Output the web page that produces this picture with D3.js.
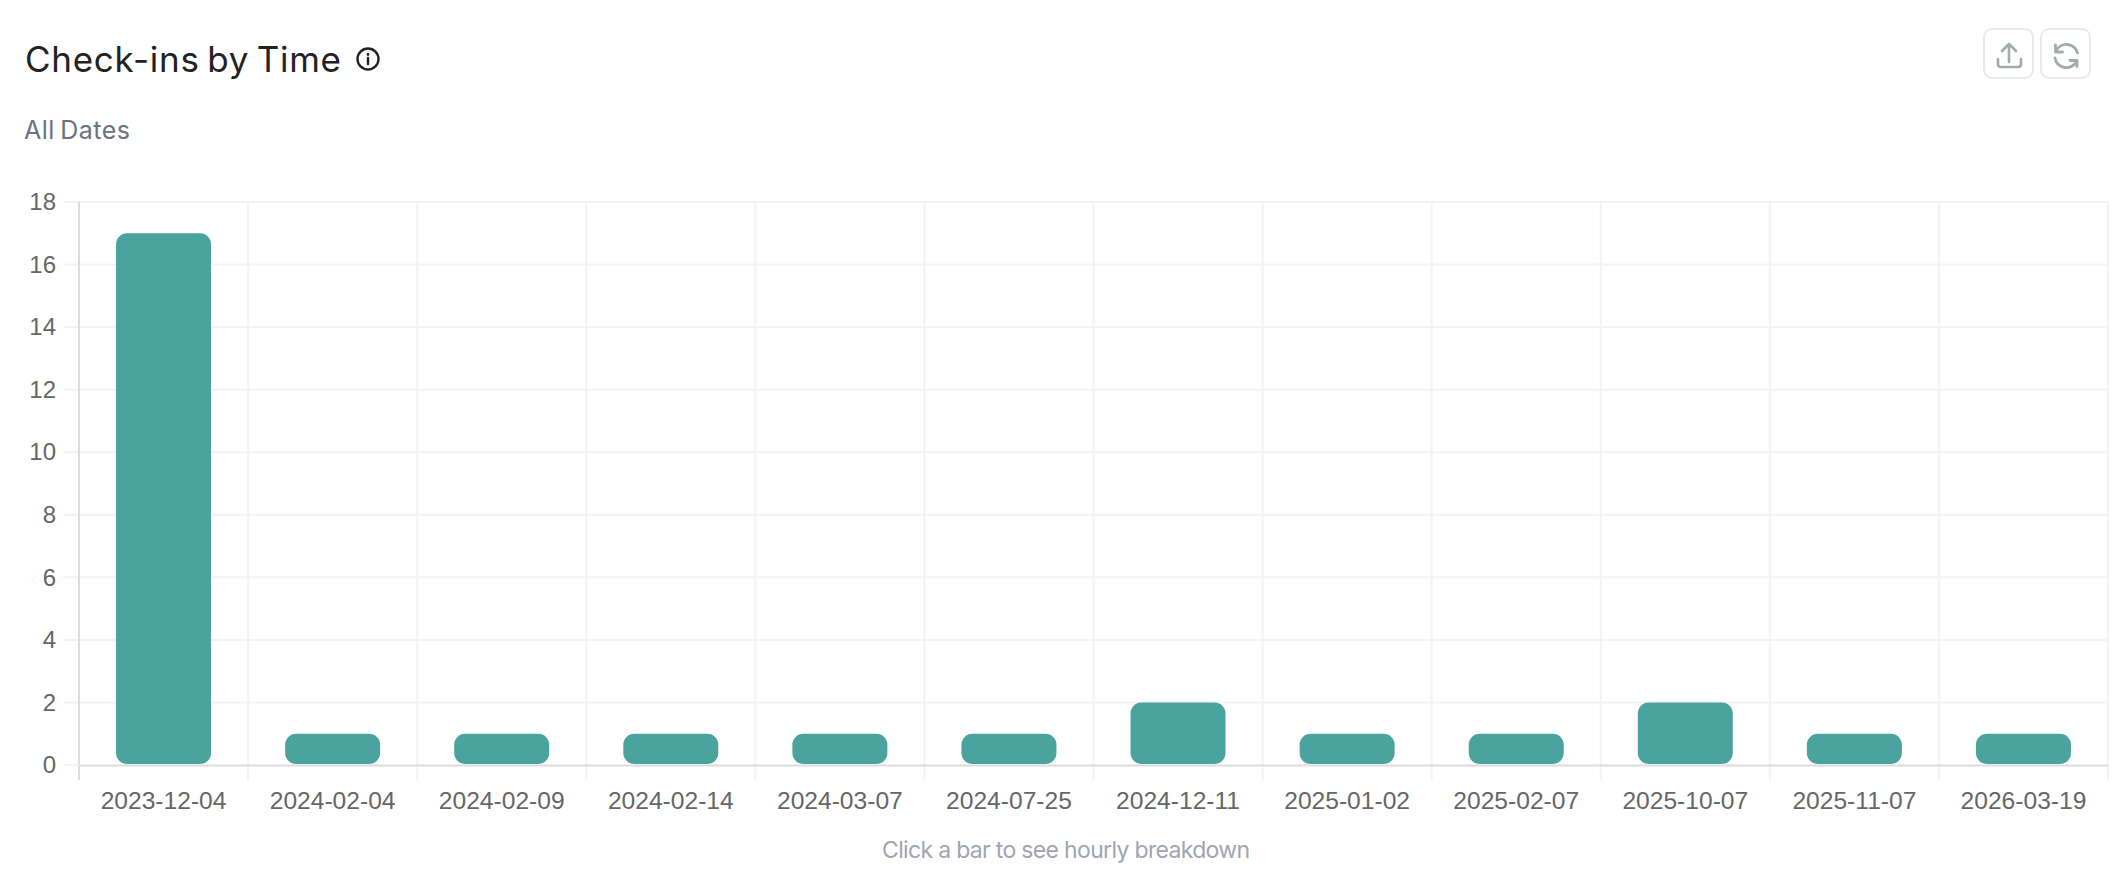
<!DOCTYPE html>
<html><head><meta charset="utf-8">
<script src="https://cdn.jsdelivr.net/npm/d3@7/dist/d3.min.js"></script>
<style>html,body{margin:0;padding:0;background:#fff;overflow:hidden}svg{display:block}</style>
</head><body><svg id="c" width="2112" height="886"></svg>
<script>
const categories = ["2023-12-04","2024-02-04","2024-02-09","2024-02-14","2024-03-07","2024-07-25","2024-12-11","2025-01-02","2025-02-07","2025-10-07","2025-11-07","2026-03-19"];
const checkins = [17,1,1,1,1,1,2,1,1,2,1,1];
const yTicks = [0,2,4,6,8,10,12,14,16,18];
const titleText = "Check-ins by Time", subtitleText = "All Dates", hintText = "Click a bar to see hourly breakdown";

const svg = d3.select("#c");
const L=79,R=2108,T=202,B=765;
const x = d3.scaleBand().domain(categories).range([L,R]);
const y = d3.scaleLinear().domain([0,18]).range([B,T]);
const grid="#f3f3f4", axisCol="#dcdcdc", labelCol="#666666", teal="#4ba3a0";
const uiFont="Inter, 'Noto Sans', sans-serif", axFont="'Liberation Sans', Arial, sans-serif";

// grid
const g=svg.append("g");
g.selectAll("line.h").data(yTicks.filter(d=>d>0)).join("line").attr("class","h")
 .attr("x1",L-16).attr("x2",R).attr("y1",d=>y(d)).attr("y2",d=>y(d)).attr("stroke",grid).attr("stroke-width",2);
const bounds=categories.map(c=>x(c)).concat([R]);
g.selectAll("line.v").data(bounds.slice(1)).join("line").attr("class","v")
 .attr("x1",d=>d).attr("x2",d=>d).attr("y1",T).attr("y2",B+15).attr("stroke",grid).attr("stroke-width",2);
g.append("line").attr("x1",L).attr("x2",L).attr("y1",T).attr("y2",B+15).attr("stroke",axisCol).attr("stroke-width",2);
g.append("line").attr("x1",L-16).attr("x2",L).attr("y1",B).attr("y2",B).attr("stroke",grid).attr("stroke-width",2);

// bars
const bw=95, rad=11;
function barPath(c,v){
  const cx=x(c)+x.bandwidth()/2,x0=cx-bw/2,x1=cx+bw/2,t=y(v),b=B-1;
  const r=Math.min(rad,(b-t)/2);
  return `M${x0+r},${t}H${x1-r}A${r},${r} 0 0 1 ${x1},${t+r}V${b-r}A${r},${r} 0 0 1 ${x1-r},${b}H${x0+r}A${r},${r} 0 0 1 ${x0},${b-r}V${t+r}A${r},${r} 0 0 1 ${x0+r},${t}Z`;
}
svg.append("g").selectAll("path").data(categories).join("path")
 .attr("d",(c,i)=>barPath(c,checkins[i])).attr("fill",teal);

// axes
const ax=svg.append("g").attr("transform",`translate(0,${B})`)
 .call(d3.axisBottom(x).tickSize(0).tickPadding(27));
ax.select(".domain").attr("stroke",axisCol).attr("stroke-width",2);
ax.selectAll("text").attr("font-family",axFont).attr("font-size",24.6).attr("fill",labelCol);
const ay=svg.append("g").attr("transform",`translate(${L-23},0)`)
 .call(d3.axisLeft(y).tickValues(yTicks).tickSize(0).tickPadding(0));
ay.select(".domain").remove();
ay.selectAll("text").attr("font-family",axFont).attr("font-size",24).attr("fill",labelCol);

// titles
svg.append("text").attr("x",25).attr("y",72).attr("font-family",uiFont).attr("font-size",35).attr("font-weight",400)
 .attr("fill","#222").attr("word-spacing",-3).attr("textLength",316).text(titleText);
svg.append("text").attr("x",24).attr("y",139).attr("font-family",uiFont).attr("font-size",25).attr("fill","#6b7280")
 .attr("word-spacing",-2).attr("textLength",106).text(subtitleText);
svg.append("text").attr("x",882).attr("y",858).attr("font-family",uiFont).attr("font-size",23).attr("fill","#9fa5b3")
 .attr("textLength",368).text(hintText);

// info icon
const info=svg.append("g").attr("transform","translate(368,59)").attr("fill","none").attr("stroke","#222").attr("stroke-width",2.4);
info.append("circle").attr("r",10.5);
info.append("line").attr("x1",0).attr("x2",0).attr("y1",-1).attr("y2",5).attr("stroke-linecap","round");
info.append("circle").attr("cy",-4.5).attr("r",1.4).attr("fill","#222").attr("stroke","none");

// buttons
[1983,2040].forEach(bx=>svg.append("rect").attr("x",bx+1).attr("y",29).attr("width",49).attr("height",49).attr("rx",8)
  .attr("fill","#fff").attr("stroke","#e9e9e9").attr("stroke-width",2));
const ic="#a3abab";
const up=svg.append("g").attr("fill","none").attr("stroke",ic).attr("stroke-width",2.6).attr("stroke-linecap","round").attr("stroke-linejoin","round");
up.append("path").attr("d","M2009,45V62M2002,51L2009,44L2016,51");
up.append("path").attr("d","M1998,59V64Q1998,67 2001,67H2018Q2021,67 2021,64V59");
const rf=svg.append("g").attr("fill","none").attr("stroke",ic).attr("stroke-width",2.8).attr("stroke-linecap","round").attr("stroke-linejoin","round");
rf.append("path").attr("d","M2056,51A11.5,11.5 0 0 1 2077.5,53");
rf.append("path").attr("d","M2055,58A11.5,11.5 0 0 0 2075,63.5");
rf.append("path").attr("d","M2055.5,45V52H2062.5");
rf.append("path").attr("d","M2077,66.5V60.5H2070");
</script></body></html>
